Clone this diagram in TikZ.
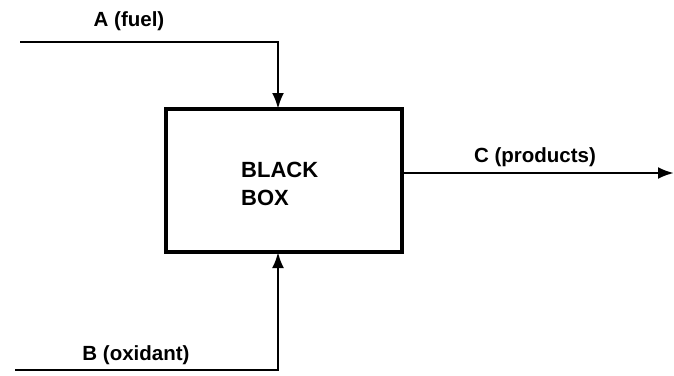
\documentclass[tikz,border=0pt]{standalone}
\usepackage{fontspec}
\setmainfont{Liberation Sans}
\usetikzlibrary{arrows.meta}
\begin{document}
\begin{tikzpicture}[x=1pt,y=-1pt,
  lbl/.style={font=\bfseries\fontsize{20.5}{24}\selectfont, inner sep=0pt},
  bigl/.style={font=\bfseries\fontsize{22}{28}\selectfont, inner sep=0pt, align=left},
  flow/.style={line width=2.6pt, -{Latex[length=16pt,width=12pt]}},
  boxstyle/.style={draw, line width=3.6pt, minimum width=236pt, minimum height=143pt, inner sep=0pt}]
\useasboundingbox (0,0) rectangle (674,375);
\node[boxstyle] (bb) at (284,180.5) {};
\node[bigl, anchor=base west] (bbt) at (241,205) {BLACK\\BOX};
\coordinate (a0) at (20,42);
\coordinate (a1) at (278,42);
\coordinate (b0) at (15,370);
\coordinate (b1) at (278,370);
\coordinate (ain) at (278,109);
\coordinate (bin) at (278,252);
\coordinate (cout) at (402,173);
\coordinate (c1) at (674,173);
\node[lbl, anchor=base] (la) at (129,26) {A (fuel)};
\node[lbl, anchor=base] (lb) at (136,360) {B (oxidant)};
\node[lbl, anchor=base] (lc) at (535,162) {C (products)};
\draw[flow] (a0) -- (a1) -- (ain);
\draw[flow] (b0) -- (b1) -- (bin);
\draw[flow] (cout) -- (c1);
\end{tikzpicture}
\end{document}
